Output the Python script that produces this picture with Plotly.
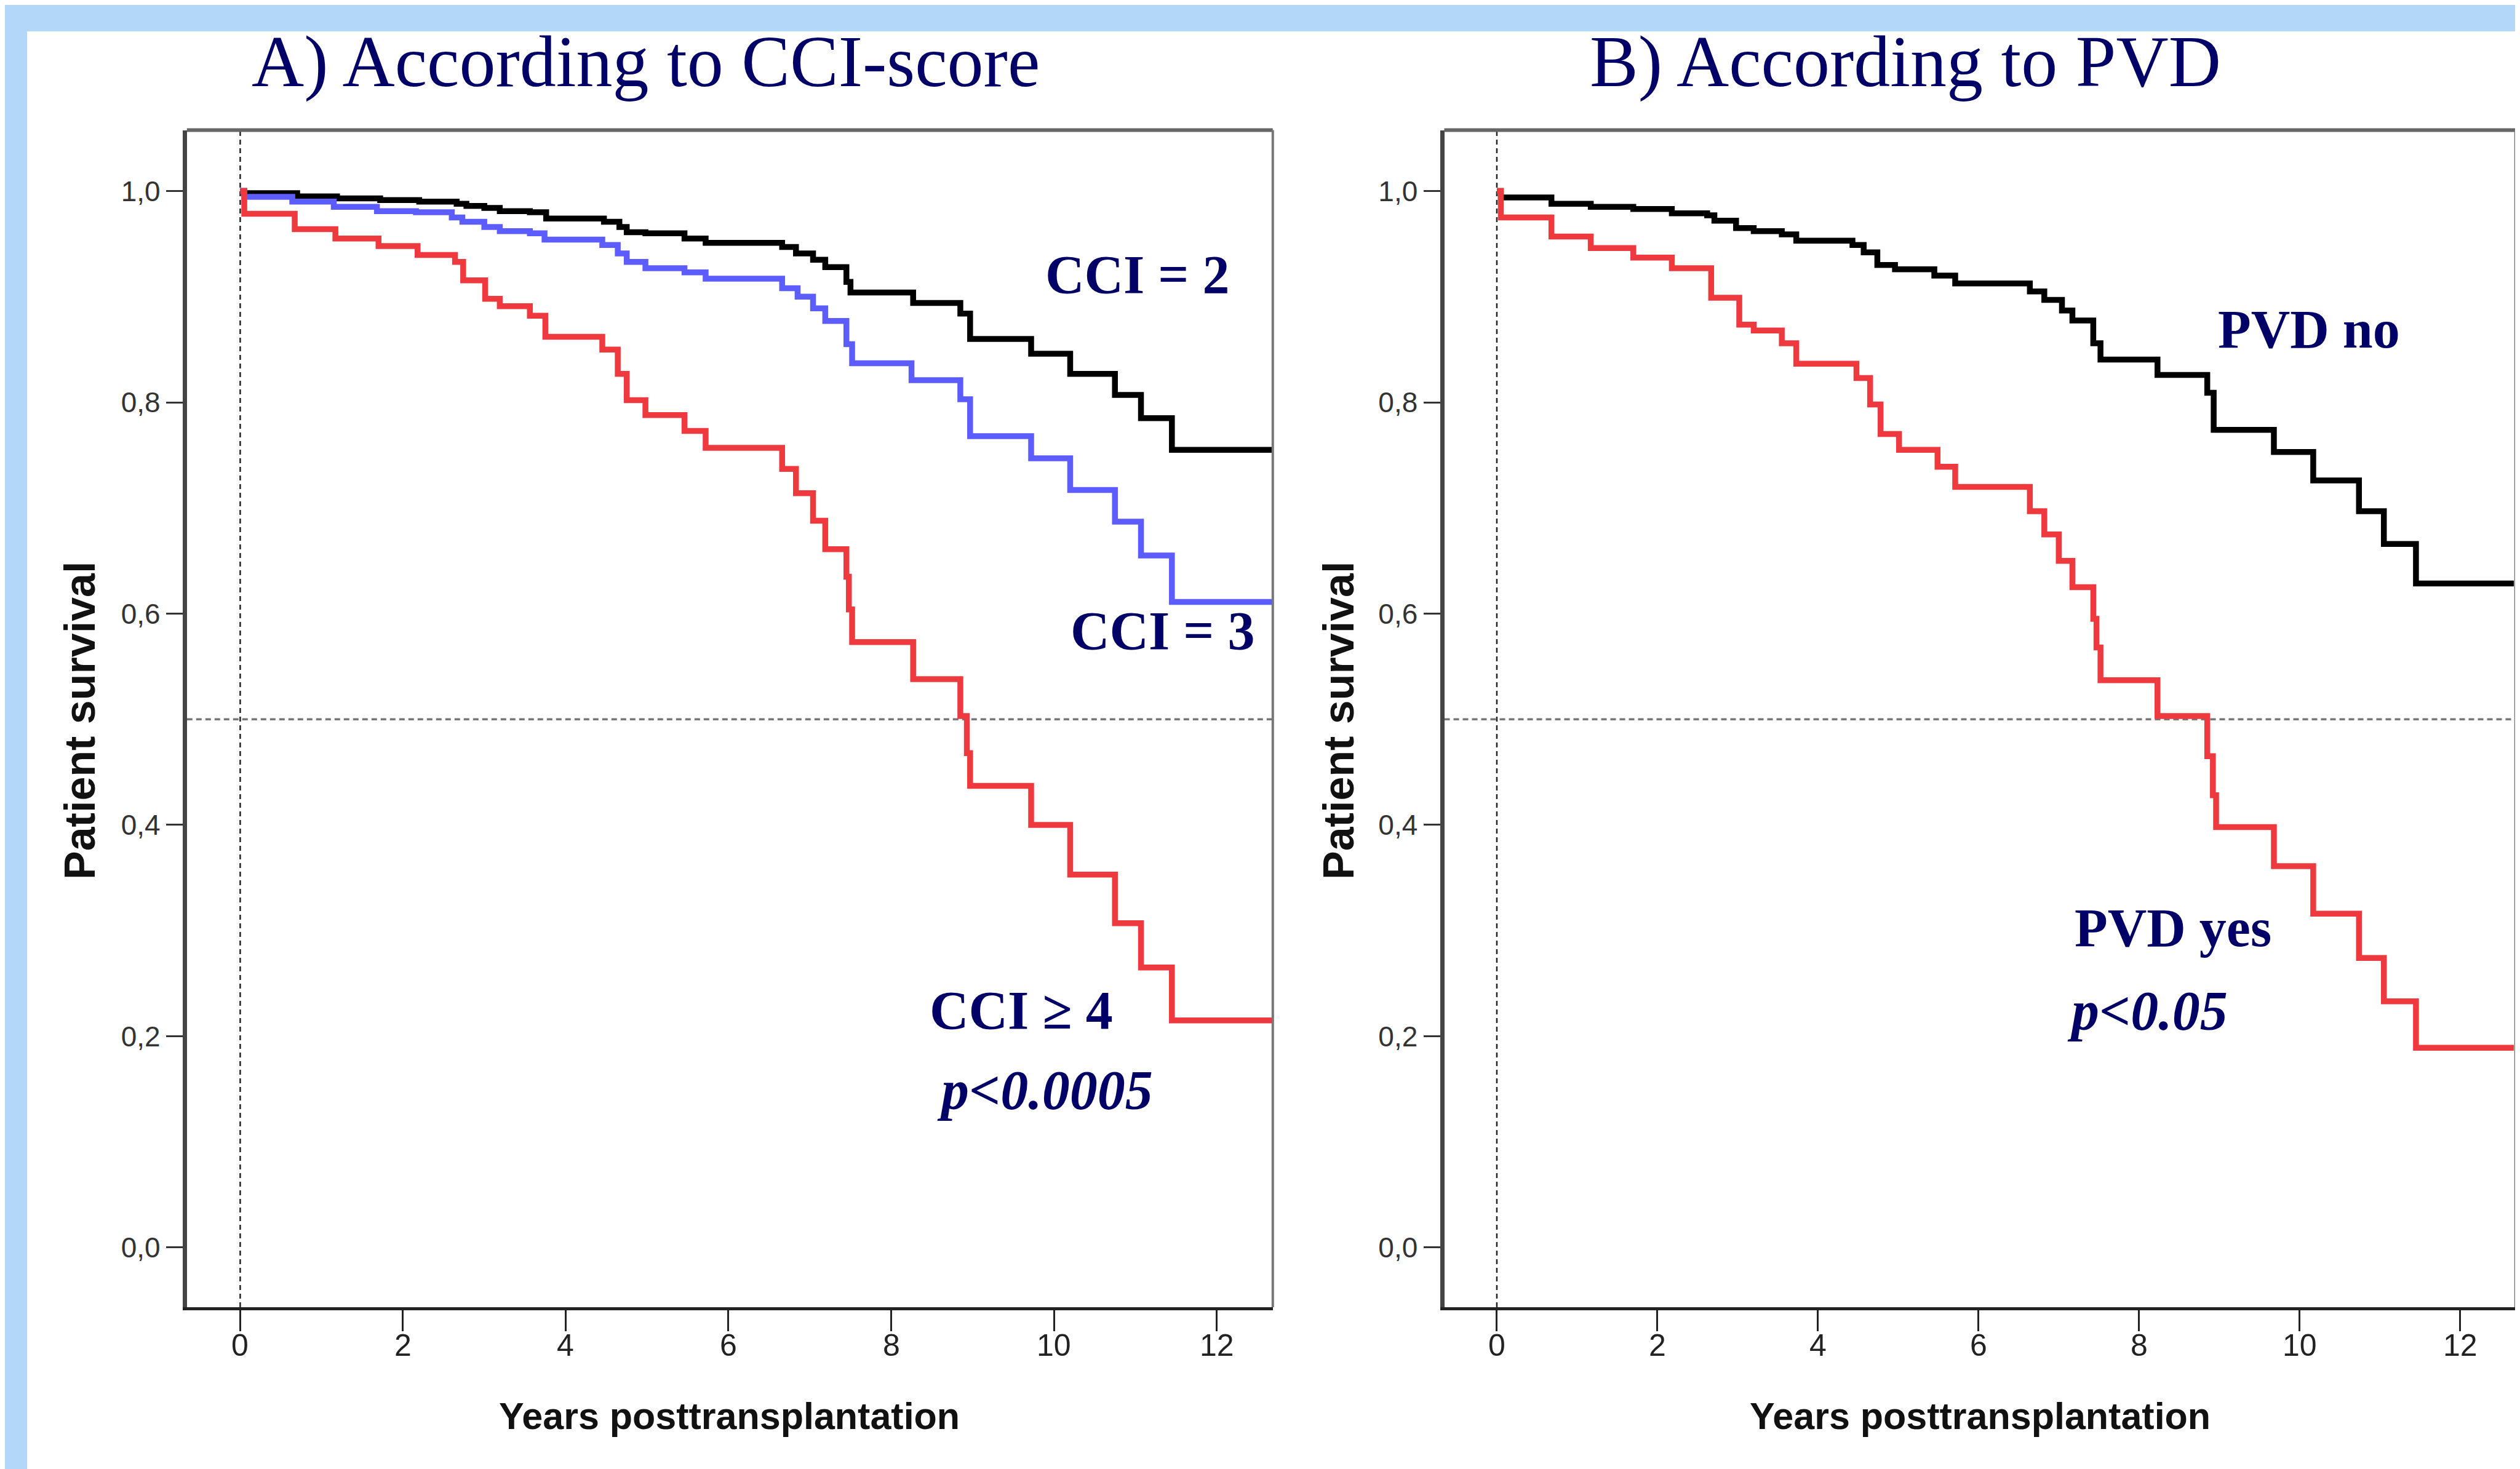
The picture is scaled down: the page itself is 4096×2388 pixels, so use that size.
import plotly.graph_objects as go

# ---------------- data ----------------
years_ticks = [0, 2, 4, 6, 8, 10, 12]
surv_ticks = [0.0, 0.2, 0.4, 0.6, 0.8, 1.0]
surv_tick_text = ["0,0", "0,2", "0,4", "0,6", "0,8", "1,0"]

# Panel A: according to CCI-score
cci2_t = [0, 0.05, 0.70, 1.19, 1.72, 2.20, 2.66, 2.78, 3.00, 3.19, 3.56, 3.76, 4.47, 4.66,
          4.75, 4.98, 5.46, 5.72, 6.66, 6.83, 7.04, 7.19, 7.45, 7.50, 8.27, 8.85, 8.97,
          9.72, 10.20, 10.75, 11.07, 11.45, 12.68]
cci2_s = [1.0, 0.998, 0.995, 0.993, 0.9915, 0.990, 0.988, 0.986, 0.984, 0.981, 0.980, 0.974,
          0.971, 0.966, 0.961, 0.960, 0.955, 0.951, 0.947, 0.941, 0.935, 0.928, 0.914, 0.904,
          0.894, 0.884, 0.860, 0.846, 0.827, 0.807, 0.785, 0.755, 0.755]

cci3_t = [0, 0.05, 0.64, 1.15, 1.68, 2.16, 2.60, 2.73, 3.00, 3.19, 3.56, 3.74, 4.45, 4.64,
          4.75, 4.98, 5.46, 5.72, 6.66, 6.85, 7.04, 7.19, 7.45, 7.52, 8.25, 8.85, 8.97,
          9.72, 10.20, 10.75, 11.07, 11.45, 12.68]
cci3_s = [1.0, 0.9945, 0.990, 0.985, 0.981, 0.980, 0.975, 0.971, 0.966, 0.962, 0.960, 0.954,
          0.949, 0.941, 0.933, 0.927, 0.923, 0.917, 0.908, 0.900, 0.889, 0.877, 0.855, 0.837,
          0.821, 0.803, 0.768, 0.747, 0.717, 0.687, 0.655, 0.611, 0.611]

cci4_t = [0, 0.05, 0.67, 1.17, 1.70, 2.18, 2.64, 2.74, 3.01, 3.19, 3.56, 3.75, 4.45, 4.64,
          4.75, 4.98, 5.46, 5.72, 6.66, 6.83, 7.04, 7.19, 7.45, 7.48, 7.52, 8.27, 8.85,
          8.93, 8.97, 9.72, 10.20, 10.75, 11.07, 11.45, 12.68]
cci4_s = [1.0, 0.9785, 0.964, 0.955, 0.948, 0.9395, 0.933, 0.9155, 0.898, 0.891, 0.882, 0.862,
          0.850, 0.827, 0.802, 0.788, 0.773, 0.757, 0.737, 0.714, 0.688, 0.661, 0.635, 0.604,
          0.573, 0.538, 0.503, 0.468, 0.437, 0.400, 0.353, 0.307, 0.265, 0.215, 0.215]

# Panel B: according to PVD
pvd_no_t = [0, 0.05, 0.68, 1.17, 1.70, 2.18, 2.62, 2.71, 2.98, 3.20, 3.55, 3.73, 4.43, 4.57,
            4.74, 4.96, 5.45, 5.71, 6.64, 6.82, 7.04, 7.17, 7.43, 7.52, 8.23, 8.85, 8.93,
            9.68, 10.17, 10.74, 11.05, 11.45, 12.67]
pvd_no_s = [1.0, 0.994, 0.988, 0.985, 0.983, 0.979, 0.977, 0.972, 0.965, 0.962, 0.959, 0.953,
            0.949, 0.942, 0.930, 0.926, 0.920, 0.9125, 0.905, 0.897, 0.887, 0.8775, 0.856,
            0.8405, 0.826, 0.809, 0.774, 0.753, 0.726, 0.697, 0.666, 0.6285, 0.6285]

pvd_yes_t = [0, 0.05, 0.68, 1.17, 1.70, 2.18, 2.67, 3.02, 3.20, 3.55, 3.73, 4.48, 4.65, 4.78,
             5.01, 5.49, 5.71, 6.64, 6.82, 7.00, 7.17, 7.43, 7.47, 7.52, 8.23, 8.85, 8.92,
             8.96, 9.68, 10.17, 10.74, 11.05, 11.45, 12.67]
pvd_yes_s = [1.0, 0.975, 0.957, 0.946, 0.937, 0.927, 0.899, 0.8736, 0.868, 0.856, 0.8366,
             0.823, 0.798, 0.770, 0.755, 0.739, 0.720, 0.697, 0.675, 0.650, 0.625, 0.595,
             0.568, 0.537, 0.503, 0.465, 0.428, 0.398, 0.361, 0.316, 0.274, 0.233, 0.189, 0.189]

panel_titles = ["A) According to CCI-score", "B) According to PVD"]
x_title = "Years posttransplantation"
y_title = "Patient survival"

# ---------------- styling ----------------
W, H = 4096, 2388
NAVY = "#000066"
BLACK = "#000000"
BLUE = "#5c5cff"
RED = "#ee3a3f"
BG_BLUE = "#b3d7f8"
LW = 9.5
SHIFT = 0.09  # annotation vertical correction (fraction of font size)


def px(x):
    return x / W


def py(y):
    return 1 - y / H


fig = go.Figure()

series = [
    (cci2_t, cci2_s, BLACK, "x", "y", "CCI = 2"),
    (cci3_t, cci3_s, BLUE, "x", "y", "CCI = 3"),
    (cci4_t, cci4_s, RED, "x", "y", "CCI ≥ 4"),
    (pvd_no_t, pvd_no_s, BLACK, "x2", "y2", "PVD no"),
    (pvd_yes_t, pvd_yes_s, RED, "x2", "y2", "PVD yes"),
]
for t, s, c, xa, ya, name in series:
    fig.add_trace(go.Scatter(x=t, y=s, mode="lines", line=dict(color=c, width=LW, shape="hv"),
                             xaxis=xa, yaxis=ya, name=name, showlegend=False, hoverinfo="skip"))

xr = [-0.655, 12.69]
yr = [-0.0565, 1.0577]

ydom = [py(2116.9), py(203.5)]
axis_common_x = dict(range=xr, tickvals=years_ticks, showticklabels=False, ticks="outside",
                     ticklen=34, tickwidth=3, tickcolor="#222", showline=True, linecolor="#222",
                     linewidth=5, showgrid=False, zeroline=False)
axis_common_y = dict(range=yr, tickvals=surv_ticks, ticktext=surv_tick_text, ticks="outside",
                     ticklen=27, tickwidth=3, tickcolor="#333", showline=True, linecolor="#444",
                     linewidth=7, showgrid=False, zeroline=False,
                     tickfont=dict(family="Liberation Sans, Arial", size=46, color="#333"))

fig.update_layout(
    width=W, height=H,
    margin=dict(l=0, r=0, t=0, b=0),
    paper_bgcolor="white", plot_bgcolor="white",
    xaxis=dict(domain=[px(295.8), px(2060.8)], anchor="y", **axis_common_x),
    yaxis=dict(domain=ydom, anchor="x", **axis_common_y),
    xaxis2=dict(domain=[px(2339.5), px(4080.7)], anchor="y2", **axis_common_x),
    yaxis2=dict(domain=ydom, anchor="x2", **axis_common_y),
)

shapes = []
# light-blue slide border (top and left strips)
shapes.append(dict(type="rect", xref="paper", yref="paper", x0=0, x1=1, y0=py(43), y1=1,
                   fillcolor=BG_BLUE, line=dict(width=0), layer="below"))
shapes.append(dict(type="rect", xref="paper", yref="paper", x0=0, x1=px(36), y0=0, y1=1,
                   fillcolor=BG_BLUE, line=dict(width=0), layer="below"))

for xa, ya in [("x", "y"), ("x2", "y2")]:
    # top and right frame lines
    shapes.append(dict(type="line", xref=f"{xa} domain", yref=f"{ya} domain", x0=0, x1=1, y0=1, y1=1,
                       line=dict(color="#666", width=6)))
    shapes.append(dict(type="line", xref=f"{xa} domain", yref=f"{ya} domain", x0=1, x1=1, y0=0, y1=1,
                       line=dict(color="#777", width=4)))
    # reference lines
    shapes.append(dict(type="line", xref=xa, yref=f"{ya} domain", x0=0, x1=0, y0=0, y1=1,
                       line=dict(color="#222", width=2.5, dash="8px,6px"), layer="below"))
    shapes.append(dict(type="line", xref=f"{xa} domain", yref=ya, x0=0, x1=1, y0=0.5, y1=0.5,
                       line=dict(color="#777", width=3.5, dash="9px,6px"), layer="below"))

annotations = []


def ann(text, x, y, size, font_family, color, xref="paper", angle=0, dx=0):
    annotations.append(dict(text=text, x=x, y=py(y - SHIFT * size) if angle == 0 else py(y),
                            xref=xref, yref="paper", xanchor="center", yanchor="middle",
                            showarrow=False, textangle=angle,
                            font=dict(family=font_family, size=size, color=color)))


SERIF = "Liberation Serif, Times New Roman"
SANS = "Liberation Sans, Arial"

ann(panel_titles[0], px(1041), 103.2, 118, SERIF, NAVY)
ann(panel_titles[1], px(3089), 103.2, 118, SERIF, NAVY)

labels = [
    ("<b>CCI = 2</b>", 1840.7, 446.5, 88),
    ("<b>CCI = 3</b>", 1882, 1025.2, 88),
    ("<b>CCI ≥ 4</b>", 1652, 1642.9, 88),
    ("<b><i>p&lt;0.0005</i></b>", 1690, 1773, 90),
    ("<b>PVD no</b>", 3745, 535, 88),
    ("<b>PVD yes</b>", 3524, 1508.8, 88),
    ("<b><i>p&lt;0.05</i></b>", 3482.6, 1643.3, 90),
]
for txt, x, y, s in labels:
    ann(txt, px(x), y, s, SERIF, NAVY)

# x tick labels (placed through the x axes)
for xa in ["x", "x2"]:
    for v in years_ticks:
        ann(str(v), v, 2183.5, 50, SANS, "#222", xref=xa)

for cx in [1177, 3210]:
    ann(f"<b>{x_title}</b>", px(cx), 2299, 61, SANS, "#111")
for cx in [122, 2168]:
    ann(f"<b>{y_title}</b>", px(cx), 1164, 70, SANS, "#111", angle=-90)

fig.update_layout(shapes=shapes, annotations=annotations)
fig.write_html("out.html")
